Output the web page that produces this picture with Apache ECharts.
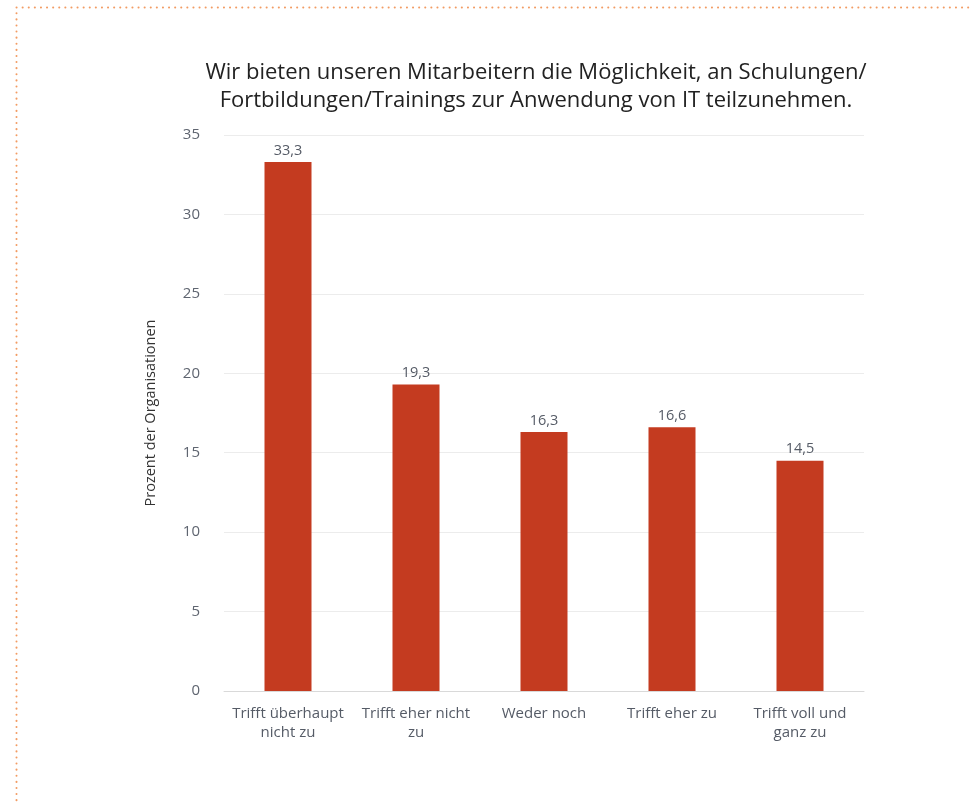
<!DOCTYPE html>
<html><head><meta charset="utf-8">
<script src="https://cdn.jsdelivr.net/npm/echarts@6/dist/echarts.min.js"></script>
<style>html,body{margin:0;padding:0;background:#fff}#c{width:973px;height:805px}</style>
</head><body><div id="c"></div>
<script>
const categories = ["Trifft überhaupt\nnicht zu", "Trifft eher nicht\nzu", "Weder noch", "Trifft eher zu", "Trifft voll und\nganz zu"];
const values = [33.3, 19.3, 16.3, 16.6, 14.5];
const yTicks = [0, 5, 10, 15, 20, 25, 30, 35];
const titleText = "Wir bieten unseren Mitarbeitern die Möglichkeit, an Schulungen/\nFortbildungen/Trainings zur Anwendung von IT teilzunehmen.";
const yName = "Prozent der Organisationen";

const font = "'Open Sans', Lato, sans-serif";
const chart = echarts.init(document.getElementById('c'), null, {renderer: 'canvas'});
chart.setOption({
  animation: false,
  textStyle: {fontFamily: font},
  graphic: [{
    type: 'rect', silent: true,
    shape: {x: 16.5, y: 7.5, width: 1000, height: 900},
    style: {fill: 'none', stroke: '#F29B62', lineWidth: 2, lineDash: [0.1, 6], lineCap: 'round'}
  }],
  title: {
    text: titleText, left: 531, top: 54, textAlign: 'center',
    textStyle: {fontFamily: font, fontSize: 22, fontWeight: 'normal', color: '#222', lineHeight: 28}
  },
  grid: {left: 224, right: 109, top: 135, bottom: 114},
  xAxis: {
    type: 'category', data: categories,
    axisLine: {lineStyle: {color: '#d9d9d9', width: 1}},
    axisTick: {show: false},
    axisLabel: {interval: 0, color: '#555b66', fontSize: 15, lineHeight: 19, margin: 13, fontFamily: font}
  },
  yAxis: {
    type: 'value', min: 0, max: 35, interval: 5,
    name: yName, nameLocation: 'middle', nameGap: 66, nameRotate: 90,
    nameTextStyle: {color: '#333', fontSize: 14.5, fontFamily: font},
    axisLine: {show: false}, axisTick: {show: false},
    splitLine: {lineStyle: {color: '#ececec', width: 1}},
    axisLabel: {color: '#5f6570', fontSize: 15, margin: 24, fontFamily: font,
      formatter: v => yTicks.includes(v) ? String(v) : ''}
  },
  series: [{
    type: 'bar', data: values, barWidth: 47,
    itemStyle: {color: '#C43B20'},
    label: {show: true, position: 'top', distance: 4, color: '#555b66', fontSize: 14.5, fontFamily: font,
      formatter: p => String(p.value).replace('.', ',')}
  }]
});
</script></body></html>
